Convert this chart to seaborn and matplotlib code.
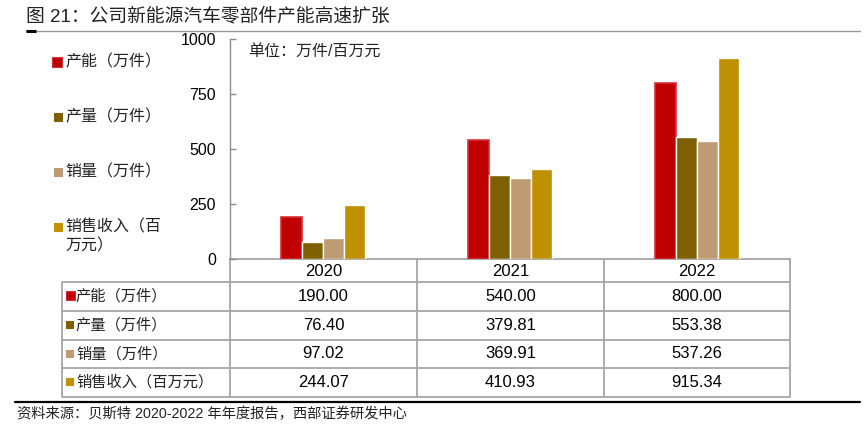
import matplotlib
matplotlib.use('Agg')
import matplotlib.pyplot as plt
import seaborn as sns
import pandas as pd
from matplotlib.patches import Rectangle

# data
years = ['2020', '2021', '2022']
series_names = ['产能（万件）', '产量（万件）', '销量（万件）', '销售收入（百万元）']
capacity = [190.00, 540.00, 800.00]
output = [76.40, 379.81, 553.38]
sales = [97.02, 369.91, 537.26]
revenue = [244.07, 410.93, 915.34]
colors = ['#C00000', '#7F6000', '#BF9B74', '#BF9000']
yticks = [0, 250, 500, 750, 1000]

title = '图 21：公司新能源汽车零部件产能高速扩张'
unit_note = '单位：万件/百万元'
source = '资料来源：贝斯特 2020-2022 年年度报告，西部证券研发中心'

sns.set_theme(style='white')
plt.rcParams['font.family'] = ['Liberation Sans', 'Noto Sans CJK SC', 'DejaVu Sans']

W, H = 865, 438
fig = plt.figure(figsize=(W / 100, H / 100), dpi=100)

# overlay axes in pixel coordinates for table, legend and captions
ov = fig.add_axes([0, 0, 1, 1])
ov.set_xlim(0, W)
ov.set_ylim(H, 0)
ov.axis('off')

# chart axes
x0, x1, ytop, ybot = 230, 790, 39, 259
ax = fig.add_axes([x0 / W, 1 - ybot / H, (x1 - x0) / W, (ybot - ytop) / H])
ax.set_facecolor('none')

all_values = [capacity, output, sales, revenue]
df = pd.DataFrame({
    'year': [y for _ in series_names for y in years],
    'series': [s for s in series_names for _ in years],
    'value': [v for vals in all_values for v in vals],
})
sns.barplot(data=df, x='year', y='value', hue='series', order=years,
            hue_order=series_names, palette=colors, width=0.45, gap=0,
            saturation=1, legend=False, ax=ax)
# slightly lighter rim on the capacity bars
for p in ax.patches[:len(years)]:
    p.set_edgecolor('#D8303A')
    p.set_linewidth(1.2)

ax.set_xlim(-0.5, len(years) - 0.5)
ax.set_ylim(0, 1000)
ax.set_yticks(yticks)
ax.set_yticklabels([str(t) for t in yticks], fontsize=11.5, color='black')
ax.set_xticks([])
ax.set_xlabel('')
ax.set_ylabel('')
for s in ['top', 'right', 'bottom']:
    ax.spines[s].set_visible(False)
ax.spines['left'].set_color('#8C8C8C')
ax.spines['left'].set_linewidth(1)
ax.tick_params(axis='y', direction='in', length=4, width=1, color='#8C8C8C', pad=10, left=True)
ax.text(0.033, 0.945, unit_note, transform=ax.transAxes, fontsize=11.5,
        ha='left', va='center', color='#222222')

# legend on the left
leg_y = [62, 117, 172, 227]
leg_labels = ['产能（万件）', '产量（万件）', '销量（万件）', '销售收入（百\n万元）']
for i, (yy, lab) in enumerate(zip(leg_y, leg_labels)):
    sz = 10 if i == 0 else 8
    ov.add_patch(Rectangle((62 - sz, yy - sz / 2), sz, sz, facecolor=colors[i],
                           edgecolor='#D8303A' if i == 0 else colors[i], lw=0.8))
    ov.text(65, yy - 8, lab, fontsize=11.5, ha='left', va='top', color='#222222',
            linespacing=1.35)

# data table under the chart
tbl_left = 62
col_edges = [x0, 417, 604, x1]
row_edges = [ybot, 282, 311, 340, 368, 397]
grid = '#A6A6A6'
for yy in row_edges[1:]:
    ov.plot([tbl_left, x1], [yy, yy], color=grid, lw=1.3, solid_capstyle='butt')
ov.plot([x0, x1], [ybot, ybot], color=grid, lw=1.3)
ov.plot([tbl_left, tbl_left], [row_edges[1], row_edges[-1]], color=grid, lw=1.3)
for xx in col_edges:
    ov.plot([xx, xx], [ybot, row_edges[-1]], color=grid, lw=1.3)

for j, yr in enumerate(years):
    cx = (col_edges[j] + col_edges[j + 1]) / 2
    ov.text(cx, (row_edges[0] + row_edges[1]) / 2 + 1, yr, fontsize=12,
            ha='center', va='center', color='black')
for i, (name, vals) in enumerate(zip(series_names, all_values)):
    cy = (row_edges[i + 1] + row_edges[i + 2]) / 2
    sz = 9 if i == 0 else 7
    ov.add_patch(Rectangle((66, cy - sz / 2 - 1), sz, sz, facecolor=colors[i],
                           edgecolor='#D8303A' if i == 0 else colors[i], lw=0.8))
    ov.text(76, cy, name, fontsize=11, ha='left', va='center', color='#222222')
    for j, v in enumerate(vals):
        cx = (col_edges[j] + col_edges[j + 1]) / 2
        ov.text(cx, cy, f'{v:.2f}', fontsize=12, ha='center', va='center', color='black')

# title, rules and source
ov.text(26, 16, title, fontsize=13.5, ha='left', va='center', color='#222222')
ov.plot([26, 860], [31, 31], color='#9A9A9A', lw=1)
ov.plot([26, 36], [31, 31], color='black', lw=2.2, solid_capstyle='butt')
ov.plot([15, 860], [402, 402], color='black', lw=1.6)
ov.text(17, 414, source, fontsize=10.3, ha='left', va='center', color='#222222')

fig.savefig('out.png', dpi=100)
plt.close(fig)
